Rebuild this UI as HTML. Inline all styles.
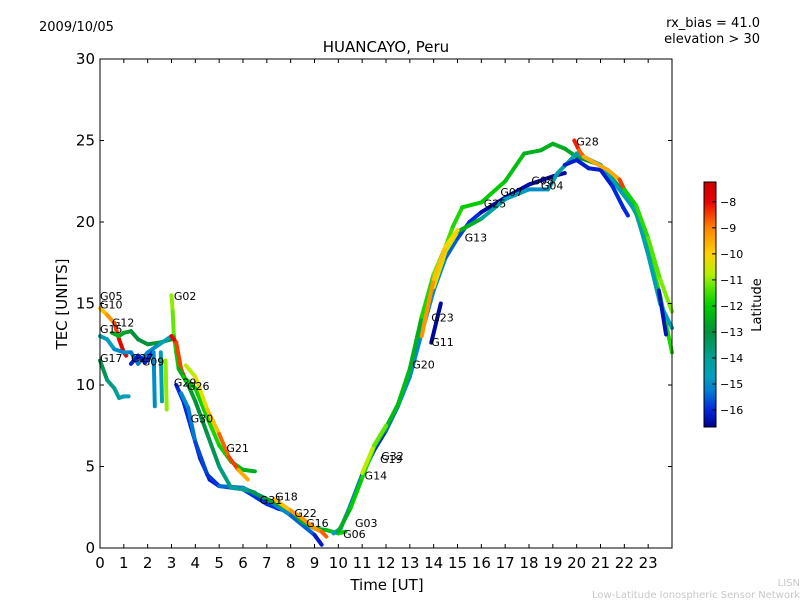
<!DOCTYPE html>
<html><head><meta charset="utf-8"><style>
body{margin:0;background:#fff}
svg{display:block;font-family:"DejaVu Sans","Liberation Sans",sans-serif}
</style></head><body>
<svg id="chart" width="800" height="600">
<text x="39" y="31" font-size="13">2009/10/05</text>
<text x="760" y="27" font-size="13" text-anchor="end">rx_bias = 41.0</text>
<text x="760" y="43" font-size="13" text-anchor="end">elevation &gt; 30</text>
<text x="386" y="52" font-size="15" text-anchor="middle">HUANCAYO, Peru</text>
<g id="marks"></g>
<g id="labels"></g>
<rect x="100" y="59" width="572" height="489" fill="none" stroke="#000" stroke-width="1"/>
<g id="axes"></g>
<text x="387" y="590" font-size="15" text-anchor="middle">Time [UT]</text>
<text transform="translate(67,304) rotate(-90)" font-size="15" text-anchor="middle">TEC [UNITS]</text>
<defs><linearGradient id="cmap" x1="0" y1="1" x2="0" y2="0"></linearGradient></defs>
<rect x="704" y="182" width="12" height="245" fill="url(#cmap)" stroke="#000"/>
<g id="cbar"></g>
<text transform="translate(761,305) rotate(-90)" font-size="13" text-anchor="middle">Latitude</text>
<text x="800" y="586" font-size="10" fill="#c8c8c8" text-anchor="end">LISN</text>
<text x="800" y="598" font-size="10" fill="#c8c8c8" text-anchor="end">Low-Latitude Ionospheric Sensor Network</text>
</svg>
<script>
const xTicks=[0,1,2,3,4,5,6,7,8,9,10,11,12,13,14,15,16,17,18,19,20,21,22,23];
const yTicks=[0,5,10,15,20,25,30];
const cbTicks=[-8,-9,-10,-11,-12,-13,-14,-15,-16];
const satNames=["G05","G10","G12","G15","G17","G27","G09","G02","G29","G26","G30","G21","G31","G18","G22","G16","G06","G03","G14","G32","G19","G20","G11","G23","G13","G25","G07","G08","G04","G28"];
const labelT=[0,0,0.5,0,0,1.3,1.75,3.1,3.1,3.65,3.8,5.3,6.7,7.35,8.15,8.65,10.2,10.7,11.1,11.8,11.75,13.1,13.9,13.9,15.3,16.1,16.8,18.1,18.5,19.98];
const labelV=[15.2,14.7,13.6,13.2,11.4,11.4,11.2,15.2,9.9,9.7,7.7,5.9,2.7,2.9,1.9,1.3,0.6,1.3,4.2,5.4,5.2,11.0,12.4,13.9,18.8,20.9,21.6,22.3,22.0,24.7];
const trkT=[
 [0,0.3,0.6,0.8,1.0,1.1],
 [0.5,0.8,1.0,1.3,1.6,2.0,2.5,3.0],
 [0,0.3,0.6,1.0,1.3,1.6,2.0,2.5,3.0],
 [0,0.3,0.6,0.8,1.0,1.2],
 [1.3,1.6,1.9,2.2],
 [3.0,3.05,3.1,3.2,3.3],
 [3.0,3.2,3.4,3.5,3.6],
 [3.2,3.5,3.8,4.2,4.6,5.0,6.0,7.0,7.5,8.0],
 [3.4,3.7,4.0,4.5,5.0,6.0,7.0,8.0,9.0,9.3],
 [3.3,3.7,4.0,4.5,5.0,5.5,6.0,6.5],
 [3.5,4.0,4.5,5.0,5.5,6.0,6.5],
 [3.6,4.0,4.5,5.0,5.4,5.8,6.2],
 [6.3,7.0,7.5,8.0,8.5,9.0,9.5,10.0,10.3],
 [7.3,8.0,8.5,9.0,9.3,9.5],
 [9.8,10.1,10.5,11.0,11.5,12.0,12.5,13.0,13.5,14.0,14.5,15.0,15.5,16.0,17.0,18.0,19.0,19.5],
 [10.0,10.5,11.0,11.5,12.0,12.5,13.0,13.5,14.0,14.5,14.8,15.2,16.0,17.0,17.8,18.5,19.0,19.5,20.0,21.0,22.0,22.5,23.0,23.5,24.0],
 [14.0,14.5,15.0,16.0,17.0,18.0,18.8,19.2,20.0,21.0,22.0,22.5,23.0,23.5,24.0],
 [13.9,14.3],
 [19.5,20.0,20.5,21.0,21.5,21.95,22.15],
 [19.9,20.1,20.3,21.3,21.8,22.0],
 [23.45,23.75],
 [2.25,2.3],
 [2.55,2.6],
 [2.75,2.8],
 [13.5,14.0,14.5,15.0],
 [11.0,11.5,12.0],
 [22.0,22.5,23.0,23.5,24.0]
];
const trkV=[
 [14.7,14.3,13.8,12.8,12.0,11.8],
 [13.2,13.0,13.2,13.3,12.8,12.5,12.6,12.8],
 [13.0,12.8,12.2,12.0,12.0,11.3,12.0,12.5,13.0],
 [11.5,10.3,9.8,9.2,9.3,9.3],
 [11.3,11.8,11.4,12.0],
 [15.5,14.5,13.0,12.0,11.0],
 [13.0,12.6,11.0,10.6,10.3],
 [10.0,9.0,7.5,5.5,4.2,3.8,3.6,2.7,2.4,2.2],
 [9.5,8.6,6.5,4.5,3.8,3.7,3.0,2.0,0.8,0.2],
 [11.0,10.0,9.0,7.0,5.0,3.7,3.6,3.4],
 [10.5,9.8,8.0,6.3,5.3,4.8,4.7],
 [11.2,10.5,8.5,7.0,5.6,4.8,4.2],
 [3.5,3.0,2.7,2.3,1.6,1.2,1.1,0.9,1.0],
 [3.0,2.3,1.8,1.2,1.0,0.7],
 [0.9,1.2,2.6,4.5,6.0,7.2,8.7,10.5,13.2,15.8,17.8,19.0,20.0,20.6,21.5,22.3,22.8,23.0],
 [1.0,2.4,4.3,6.2,7.4,8.8,11.0,14.2,16.8,18.5,19.7,20.9,21.2,22.5,24.2,24.4,24.8,24.5,24.0,23.5,21.8,20.5,18.2,15.5,12.0],
 [16.0,18.2,19.4,20.2,21.4,22.0,22.0,23.0,24.2,23.5,21.6,20.6,18.0,15.0,13.5],
 [12.6,15.0],
 [23.5,23.8,23.3,23.2,22.2,20.9,20.4],
 [25.0,24.4,24.0,23.2,22.6,22.0],
 [15.8,13.1],
 [12.0,8.7],
 [12.0,9.0],
 [11.5,8.5],
 [13.0,16.5,18.5,19.5],
 [4.6,6.3,7.5],
 [22.0,21.0,19.0,16.5,14.5]
];
const trkL=[
 [-10,-9.5,-9,-8,-8,-8],
 [-12.5,-12.5,-12.5,-13,-13,-13,-12.8,-13],
 [-14.5,-14.5,-15,-15,-15,-15.5,-15,-15,-14],
 [-13,-13.5,-14,-14,-14.5,-15],
 [-16,-16.3,-16,-16.3],
 [-11,-11,-11.5,-12,-12],
 [-8,-8,-9,-8,-8],
 [-16,-16,-16,-16.3,-16.3,-16.2,-16,-15.8,-16,-16.2],
 [-15,-15,-15.5,-16,-15.8,-15,-15,-15,-16,-16.4],
 [-12.5,-12.5,-13,-13,-13.5,-14,-14,-14],
 [-12,-12,-11.8,-11.8,-12,-12.5,-12.5],
 [-11,-10.5,-10,-9.5,-8,-9,-10],
 [-13.5,-13,-12.5,-12.5,-12.5,-12.5,-12.5,-12,-12],
 [-10,-9.5,-9,-9.5,-9,-8.5],
 [-14.5,-15,-15,-15.5,-16,-16,-15,-15,-15,-15,-15,-16,-15.5,-16.5,-16.5,-16.5,-16.5,-16.5],
 [-12.5,-12.5,-11.5,-12,-12.5,-12,-12.5,-12.5,-11,-11.5,-11.5,-12,-12,-12,-12.5,-12.5,-12.5,-12.5,-12.8,-13,-12.5,-12.5,-12,-11.5,-12],
 [-10.5,-10,-11,-14,-14.5,-15,-15,-14,-14.5,-14.5,-14.5,-14.5,-14.5,-14.5,-15],
 [-16.5,-16.5],
 [-16,-16.3,-16,-16.3,-16,-16,-16],
 [-8,-8.5,-9,-10,-9,-8],
 [-16.3,-16.3],
 [-15,-15],
 [-14.5,-14.5],
 [-11,-11],
 [-9,-9.5,-10,-10],
 [-10.5,-11,-11.5],
 [-12,-11.8,-11.5,-11.2,-11]
];
const NS="http://www.w3.org/2000/svg";
const x=t=>100+t*572/24;
const y=v=>548-v*489/30;
const LMIN=-16.65,LMAX=-7.24;
const stops=[[-16.65,[0,0,140]],[-16,[0,40,220]],[-15.3,[0,120,210]],[-14.7,[0,160,190]],[-14,[0,160,150]],[-13,[0,145,60]],[-12,[0,205,0]],[-11.3,[90,230,0]],[-10.8,[180,240,0]],[-10,[255,210,0]],[-9,[255,130,0]],[-8,[235,0,0]],[-7.24,[200,0,0]]];
function cm(l){l=Math.max(LMIN,Math.min(LMAX,l));
 for(let i=0;i<stops.length-1;i++){const a=stops[i],b=stops[i+1];
  if(l>=a[0]&&l<=b[0]){const f=(l-a[0])/(b[0]-a[0]);
   const c=a[1].map((v,k)=>Math.round(v+(b[1][k]-v)*f));return `rgb(${c[0]},${c[1]},${c[2]})`;}}
 return 'rgb(200,0,0)';}
const grad=document.getElementById('cmap');
stops.forEach(s=>{const st=document.createElementNS(NS,'stop');
 st.setAttribute('offset',(s[0]-LMIN)/(LMAX-LMIN));st.setAttribute('stop-color',`rgb(${s[1].join(',')})`);grad.appendChild(st);});
const marks=document.getElementById('marks');
trkT.forEach((ts,i)=>{
 for(let k=0;k<ts.length-1;k++){
  const ln=document.createElementNS(NS,'line');
  ln.setAttribute('x1',x(ts[k]));ln.setAttribute('y1',y(trkV[i][k]));
  ln.setAttribute('x2',x(ts[k+1]));ln.setAttribute('y2',y(trkV[i][k+1]));
  ln.setAttribute('stroke',cm((trkL[i][k]+trkL[i][k+1])/2));
  ln.setAttribute('stroke-width','4');ln.setAttribute('stroke-linecap','round');
  
  
  marks.appendChild(ln);
 }
});
const lab=document.getElementById('labels');
satNames.forEach((n,i)=>{
 const t=document.createElementNS(NS,'text');
 t.setAttribute('x',x(labelT[i]));t.setAttribute('y',y(labelV[i]));
 t.setAttribute('font-size','11');t.textContent=n;
 
 
 lab.appendChild(t);
});
const ax=document.getElementById('axes');
function add(tag,attrs,txt){const e=document.createElementNS(NS,tag);for(const k in attrs)e.setAttribute(k,attrs[k]);if(txt!==undefined)e.textContent=txt;return e;}
xTicks.forEach(t=>{
 const g1=add('line',{x1:x(t),x2:x(t),y1:548,y2:544,stroke:'#000'});
 
 
 ax.appendChild(g1);
 const g2=add('line',{x1:x(t),x2:x(t),y1:59,y2:63,stroke:'#000'});
 
 
 ax.appendChild(g2);
 const l=add('text',{x:x(t),y:568,'font-size':15,'text-anchor':'middle'},String(t));
 
 
 ax.appendChild(l);
});
yTicks.forEach(v=>{
 const g1=add('line',{x1:100,x2:104,y1:y(v),y2:y(v),stroke:'#000'});
 
 
 ax.appendChild(g1);
 const g2=add('line',{x1:668,x2:672,y1:y(v),y2:y(v),stroke:'#000'});
 
 
 ax.appendChild(g2);
 const l=add('text',{x:95,y:y(v)+5,'font-size':15,'text-anchor':'end'},String(v));
 
 
 ax.appendChild(l);
});
const cb=document.getElementById('cbar');
const cy=l=>427-(l-LMIN)/(LMAX-LMIN)*245;
cbTicks.forEach(l=>{
 const g=add('line',{x1:712,x2:716,y1:cy(l),y2:cy(l),stroke:'#000'});
 
 
 cb.appendChild(g);
 const t=add('text',{x:720,y:cy(l)+4,'font-size':11},'\u2212'+Math.abs(l));
 
 
 cb.appendChild(t);
});
</script>
</body></html>
